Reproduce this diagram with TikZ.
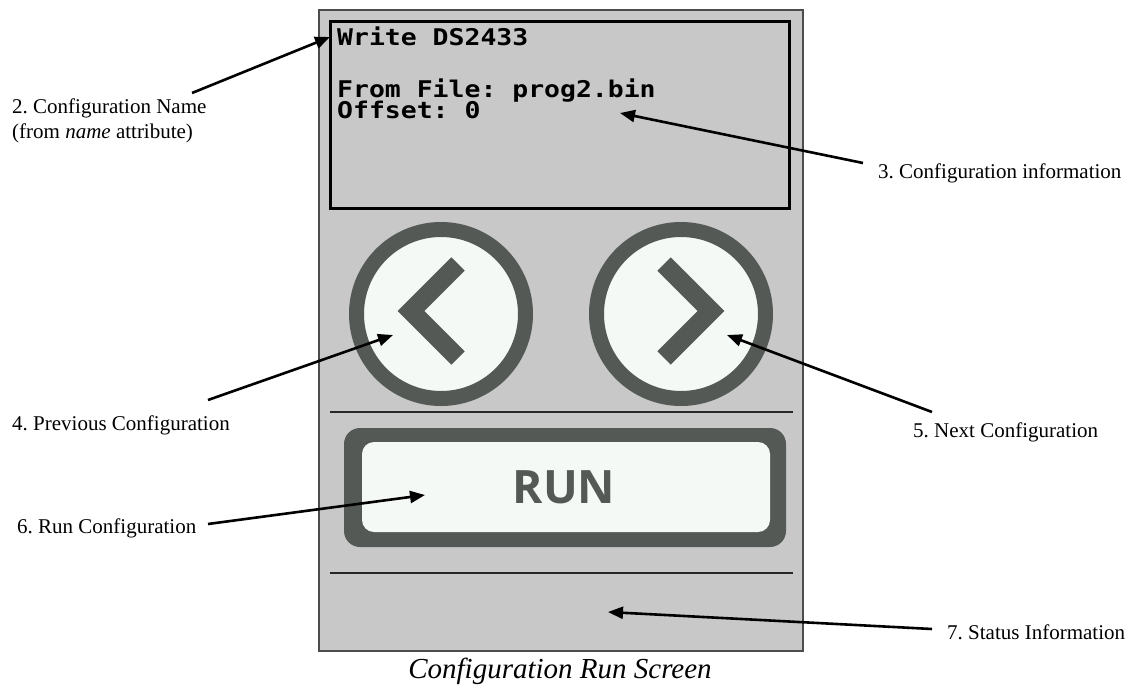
\documentclass[tikz,border=0pt]{standalone}
\usepackage{fontspec}
\setmainfont{Liberation Serif}
\newfontfamily\lcdfont[FakeStretch=1.15]{DejaVu Sans Mono}
\newfontfamily\btnfont{Open Sans}
\usetikzlibrary{positioning,calc,arrows.meta}
\definecolor{panelgray}{RGB}{200,200,200}
\definecolor{btndark}{RGB}{85,89,86}
\definecolor{btnlight}{RGB}{245,249,246}
\frenchspacing
\tikzset{
  callout/.style={font=\fontsize{21}{25}\selectfont, inner sep=0pt, anchor=west, align=left},
  pointer/.style={-{Triangle[length=15pt,width=12pt]}, line width=2.6pt},
  lcd/.style={font=\lcdfont\bfseries\fontsize{23}{23}\selectfont, inner sep=0pt, anchor=base west},
  ring/.style={draw=btndark, fill=btnlight, line width=15pt},
  chevron/.style={draw=btndark, line width=19pt},
  divider/.style={line width=2pt, black!85},
}

\begin{document}
\begin{tikzpicture}[x=1pt,y=-1pt]
        \useasboundingbox (0,0) rectangle (1135,685);

        \draw[fill=panelgray, draw=black!70, line width=1.5pt] (319,10) rectangle (803,651);
        \draw[line width=3pt] (330,22) rectangle (789,208);
        \node[lcd] (title) at (337,46) {Write DS2433};
        \node[lcd] (info1) at (337,97) {From File: prog2.bin};
        \node[lcd] (info2) at (337,118) {Offset: 0};

        \draw[ring] (441,314) circle[radius=84.5pt];
        \draw[ring] (681,314) circle[radius=84.5pt];
        \draw[chevron] (458,264) -- (411,311) -- (458,358);
        \draw[chevron] (664,264) -- (711,311) -- (664,358);

        \draw[divider] (330,412) -- (793,412);
        \fill[btndark, rounded corners=16pt] (344,428) rectangle (786,547);
        \fill[btnlight, rounded corners=12pt] (362,442) rectangle (770,532);
        \node[font=\btnfont\bfseries\fontsize{46}{46}\selectfont, text=btndark, anchor=base, inner sep=0pt] (run) at (564,503) {RUN};
        \draw[divider] (330,573) -- (793,573);

        \node[font=\itshape\fontsize{29}{29}\selectfont, anchor=base, inner sep=0pt] (caption) at (560,678) {Configuration Run Screen};

        \node[callout] (name) at (12,121) {2. Configuration Name\\(from \textit{name} attribute)};
        \node[callout] (info) at (878,173) {3. Configuration information};
        \node[callout] (prev) at (12,425) {4. Previous Configuration};
        \node[callout] (next) at (913,432) {5. Next Configuration};
        \node[callout] (runcfg) at (17,528) {6. Run Configuration};
        \node[callout] (status) at (947,632) {7. Status Information};

        \coordinate (name-s) at (192,93);   \coordinate (name-t) at (330,37);
        \coordinate (info-s) at (863,163);  \coordinate (info-t) at (620,113);
        \coordinate (prev-s) at (208,400);  \coordinate (prev-t) at (393,335);
        \coordinate (next-s) at (932,412);  \coordinate (next-t) at (727,335);
        \coordinate (run-s) at (208,524);   \coordinate (run-t) at (425,495);
        \coordinate (status-s) at (932,629); \coordinate (status-t) at (608,612);

        \draw[pointer] (name-s) -- (name-t);
        \draw[pointer] (info-s) -- (info-t);
        \draw[pointer] (prev-s) -- (prev-t);
        \draw[pointer] (next-s) -- (next-t);
        \draw[pointer] (run-s) -- (run-t);
        \draw[pointer] (status-s) -- (status-t);
    \end{tikzpicture}
\end{document}
